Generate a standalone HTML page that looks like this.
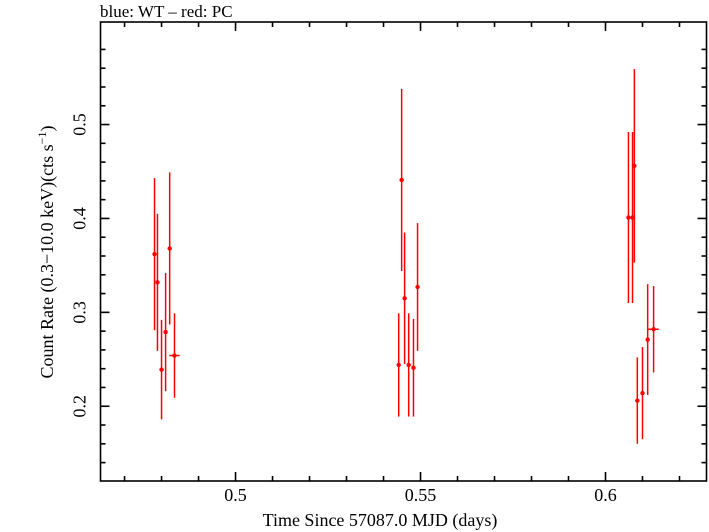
<!DOCTYPE html>
<html><head><meta charset="utf-8"><style>
body{margin:0;background:#fff}
svg{display:block;font-family:"Liberation Serif",serif}
</style></head><body>
<svg id="c" width="709" height="532">
<text x="100" y="17" font-size="17">blue: WT – red: PC</text>
<rect x="100.5" y="22" width="606" height="459" fill="none" stroke="#000" stroke-width="1.6"/>
<g id="ticks"></g>
<g id="marks"></g>
<text x="380" y="526" font-size="18" text-anchor="middle">Time Since 57087.0 MJD (days)</text>
<text transform="translate(53,252) rotate(-90)" font-size="18" text-anchor="middle">Count Rate (0.3−10.0 keV)(cts s<tspan font-size="12" dy="-7">−1</tspan><tspan dy="7">)</tspan></text>
</svg>
<script>
const times=[0.4781,0.4789,0.4800,0.4811,0.4822,0.4835,0.5441,0.5449,0.5457,0.5468,0.5481,0.5492,0.6062,0.6073,0.6078,0.6086,0.6100,0.6114,0.6130];
const rates=[0.362,0.332,0.239,0.279,0.368,0.254,0.244,0.441,0.315,0.244,0.241,0.327,0.401,0.401,0.456,0.206,0.214,0.271,0.282];
const rateErr=[0.081,0.073,0.053,0.063,0.081,0.045,0.055,0.097,0.070,0.055,0.052,0.068,0.091,0.091,0.103,0.046,0.049,0.059,0.046];
const timeErr=[0.0004,0.0004,0.0004,0.0004,0.0004,0.0014,0.0004,0.0004,0.0004,0.0004,0.0004,0.0004,0.0004,0.0004,0.0004,0.0004,0.0004,0.0004,0.0014];
const xTicks=[0.5,0.55,0.6];
const yTicks=[0.2,0.3,0.4,0.5];
const X0=100.5,X1=706.5,Y0=481,Y1=22,xmin=0.4635,xmax=0.6273,ymin=0.1204,ymax=0.6092;
const sx=v=>X0+(v-xmin)/(xmax-xmin)*(X1-X0);
const sy=v=>Y0-(v-ymin)/(ymax-ymin)*(Y0-Y1);
const NS="http://www.w3.org/2000/svg";
function mk(t,a,p){const e=document.createElementNS(NS,t);for(const k in a)e.setAttribute(k,a[k]);p.appendChild(e);return e;}
const tg=document.getElementById('ticks');
for(let v=0.47;v<=0.6273;v+=0.01){const x=sx(v);const maj=xTicks.some(t=>Math.abs(t-v)<1e-6);const L=maj?9:5;
 const l1=mk('line',{x1:x,x2:x,y1:Y0,y2:Y0-L,stroke:'#000','stroke-width':1.6},tg);
 
 
 const l2=mk('line',{x1:x,x2:x,y1:Y1,y2:Y1+L,stroke:'#000','stroke-width':1.6},tg);
 
 }
xTicks.forEach(v=>{const t=mk('text',{x:sx(v),y:Y0+20,'font-size':18,'text-anchor':'middle'},tg);t.textContent=v;
 
 });
for(let v=0.14;v<=0.6;v+=0.02){const y=sy(v);const maj=yTicks.some(t=>Math.abs(t-v)<1e-6);const L=maj?9:5;
 const l1=mk('line',{x1:X0,x2:X0+L,y1:y,y2:y,stroke:'#000','stroke-width':1.6},tg);
 
 
 const l2=mk('line',{x1:X1,x2:X1-L,y1:y,y2:y,stroke:'#000','stroke-width':1.6},tg);
 
 }
yTicks.forEach(v=>{const t=mk('text',{transform:`translate(${X0-15},${sy(v)}) rotate(-90)`,'font-size':18,'text-anchor':'middle'},tg);t.textContent=v;
 
 });
const mg=document.getElementById('marks');
times.forEach((t,i)=>{const g=mk('g',{},mg);
 
 
 mk('line',{x1:sx(t),x2:sx(t),y1:sy(rates[i]-rateErr[i]),y2:sy(rates[i]+rateErr[i]),stroke:'#f00','stroke-width':1.5},g);
 mk('line',{x1:sx(t-timeErr[i]),x2:sx(t+timeErr[i]),y1:sy(rates[i]),y2:sy(rates[i]),stroke:'#f00','stroke-width':1.5},g);
 mk('circle',{cx:sx(t),cy:sy(rates[i]),r:2.2,fill:'#f00'},g);});
</script>
</body></html>
